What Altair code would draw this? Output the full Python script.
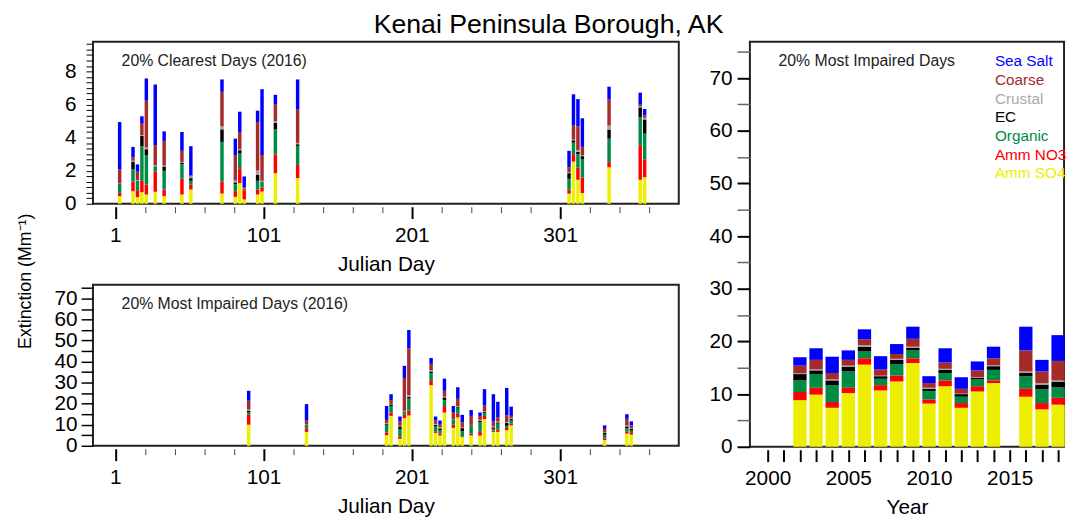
import altair as alt
import pandas as pd

COMPONENTS = ["Amm SO4", "Amm NO3", "Organic", "EC", "Crustal", "Coarse", "Sea Salt"]
COLORS = ["#EEEE00", "#FF0000", "#008B45", "#000000", "#A0A0A0", "#A52A2A", "#0000FF"]

# ---- 20% clearest days (2016) ----
clear_days = [4, 13, 16, 19, 22, 28, 34, 46, 52, 73, 82, 85, 88, 97, 100, 109, 124,
              307, 310, 313, 316, 334, 355, 358]
clear_so4 = [0.46, 0.76, 0.40, 0.70, 0.56, 0.72, 0.46, 0.56, 0.86, 0.62, 0.42, 1.25, 0.26, 0.56, 0.74, 1.85, 1.55,
             0.61, 2.55, 1.45, 0.65, 2.21, 1.45, 1.61]
clear_no3 = [0.20, 0.59, 0.42, 0.69, 0.59, 1.23, 0.40, 0.95, 0.29, 0.73, 0.34, 0.90, 0.56, 0.30, 0.25, 1.14, 0.80,
             0.24, 0.45, 0.74, 0.94, 0.31, 2.05, 1.07]
clear_oc = [0.55, 0.75, 0.53, 2.09, 1.80, 0.30, 1.13, 0.88, 0.24, 2.39, 0.43, 0.89, 0.05, 0.53, 0.32, 1.51, 1.15,
            0.66, 0.70, 0.81, 1.11, 1.42, 1.73, 1.56]
clear_ec = [0.02, 0.45, 0.04, 0.62, 0.35, 0.02, 0.26, 0.10, 0.16, 0.76, 0.10, 0.20, 0.03, 0.36, 0.03, 0.40, 0.10,
            0.34, 0.14, 0.14, 0.18, 0.55, 0.60, 0.86]
clear_crustal = [0.02, 0.05, 0.05, 0.04, 0.10, 0.08, 0.06, 0.04, 0.10, 0.18, 0.12, 0.06, 0.02, 0.26, 0.05, 0.08, 0.08,
                 0.06, 0.04, 0.10, 0.06, 0.24, 0.06, 0.10]
clear_coarse = [0.84, 0.20, 0.50, 0.70, 2.83, 1.19, 1.49, 0.67, 0.06, 2.09, 1.54, 1.04, 0.09, 2.93, 1.56, 1.05, 2.01,
                0.30, 0.85, 1.45, 0.50, 1.60, 0.10, 0.15]
clear_seasalt = [2.85, 0.64, 0.44, 0.45, 1.35, 3.68, 0.58, 1.14, 1.77, 0.75, 0.99, 1.23, 0.64, 0.69, 3.98, 0.56, 1.83,
                 0.99, 1.89, 1.64, 1.73, 0.75, 0.73, 0.38]

# ---- 20% most impaired days (2016) ----
imp_days = [91, 130, 184, 187, 193, 196, 199, 214, 217, 220, 223, 229, 232, 235, 241, 247, 250, 256, 259, 265, 268,
            331, 346, 349]
imp_so4 = [10.0, 6.6, 5.0, 14.2, 3.3, 13.1, 14.4, 28.8, 6.1, 4.9, 15.8, 8.5, 13.5, 4.1, 4.9, 4.8, 12.7, 6.6, 6.6, 7.4,
           9.7, 2.7, 5.8, 5.3]
imp_no3 = [4.7, 1.5, 1.4, 1.6, 1.2, 1.6, 2.3, 2.0, 0.8, 0.9, 3.1, 1.5, 1.7, 0.4, 0.9, 2.1, 1.5, 0.6, 1.1, 1.1, 0.8,
           0.8, 1.1, 0.8]
imp_oc = [1.2, 1.6, 3.6, 3.1, 3.5, 1.6, 5.8, 3.7, 2.3, 1.5, 2.8, 2.0, 2.9, 2.4, 3.4, 4.2, 1.3, 0.9, 2.8, 1.0, 1.5,
          1.8, 1.5, 1.1]
imp_ec = [0.7, 0.2, 0.5, 0.8, 1.2, 0.1, 0.8, 0.8, 0.8, 1.0, 1.3, 0.3, 0.5, 1.5, 0.5, 0.8, 0.5, 0.7, 0.6, 1.3, 0.7,
          0.8, 0.8, 0.9]
imp_crustal = [0.6, 0.2, 0.3, 0.2, 0.3, 0.2, 0.8, 0.5, 0.4, 0.6, 0.3, 0.2, 0.3, 0.3, 0.2, 0.4, 0.3, 0.4, 0.4, 0.5,
               0.5, 0.2, 0.4, 0.3]
imp_coarse = [4.2, 1.9, 1.5, 1.8, 2.1, 15.6, 22.2, 3.1, 1.6, 1.1, 2.8, 3.3, 3.4, 2.4, 4.3, 1.9, 2.8, 2.4, 2.1, 3.2,
              1.0, 1.7, 3.2, 1.3]
imp_seasalt = [4.7, 7.8, 6.6, 2.8, 2.3, 5.8, 8.7, 2.8, 1.9, 2.0, 5.8, 3.1, 5.5, 3.6, 2.8, 1.6, 7.8, 12.9, 7.3, 13.0,
               4.4, 1.7, 2.2, 1.9]

# ---- annual 20% most impaired days ----
years = [2002, 2003, 2004, 2005, 2006, 2007, 2008, 2009, 2010, 2011, 2012, 2013, 2014, 2016, 2017, 2018]
yr_so4 = [8.84, 9.9, 7.4, 10.2, 15.6, 10.7, 12.4, 15.9, 8.2, 11.5, 7.4, 10.5, 12.1, 9.5, 7.1, 8.0]
yr_no3 = [1.56, 1.3, 1.1, 1.0, 1.2, 1.0, 1.1, 0.9, 0.8, 1.1, 0.9, 1.0, 0.5, 1.5, 1.2, 1.3]
yr_oc = [2.2, 2.6, 3.2, 3.1, 1.3, 1.2, 2.2, 1.5, 1.6, 1.4, 1.2, 1.3, 2.0, 2.4, 2.6, 2.0]
yr_ec = [1.2, 0.7, 0.9, 0.9, 0.9, 0.5, 0.8, 0.5, 0.4, 0.6, 0.5, 0.3, 0.7, 0.6, 0.9, 1.0]
yr_crustal = [0.2, 0.2, 0.2, 0.2, 0.3, 0.1, 0.2, 0.2, 0.2, 0.2, 0.1, 0.1, 0.2, 0.3, 0.3, 0.3]
yr_coarse = [1.4, 1.8, 1.2, 1.1, 1.1, 1.2, 0.9, 1.5, 0.9, 1.2, 0.9, 1.3, 1.3, 4.0, 2.2, 3.7]
yr_seasalt = [1.6, 2.2, 3.1, 1.8, 1.9, 2.5, 1.9, 2.3, 1.3, 2.7, 2.2, 1.7, 2.2, 4.5, 2.2, 4.9]

LEGEND_LABELS = ["Sea Salt", "Coarse", "Crustal", "EC", "Organic", "Amm NO3", "Amm SO4"]
LEGEND_COLORS = ["#0000FF", "#A52A2A", "#A9A9A9", "#000000", "#008B45", "#FF0000", "#EEEE00"]

DAY_TICKS = list(range(1, 362, 20))
YEAR_TICKS = list(range(2000, 2019))
TOP_Y_TICKS = [round(k / 3, 4) for k in range(0, 30)]
IMP_Y_TICKS = list(range(0, 76, 5))

FONT = "Liberation Sans"


def to_long(xs, cols):
    rows = []
    for i, x in enumerate(xs):
        for k, (name, vals) in enumerate(zip(COMPONENTS, cols)):
            rows.append({"x": x, "component": name, "ord": k, "value": vals[i]})
    return pd.DataFrame(rows)


color_scale = alt.Scale(domain=COMPONENTS, range=COLORS)


def stacked(df, size, xscale, yscale, xaxis, yaxis):
    return alt.Chart(df).transform_stack(
        stack="value", groupby=["x"], as_=["v0", "v1"],
        sort=[alt.SortField("ord", order="ascending")]
    ).mark_bar(size=size, strokeWidth=0).encode(
        x=alt.X("x:Q", scale=xscale, axis=xaxis),
        y=alt.Y("v0:Q", scale=yscale, axis=yaxis),
        y2="v1:Q",
        color=alt.Color("component:N", scale=color_scale, legend=None),
    )


def panel_label(text):
    return alt.Chart(pd.DataFrame({"t": [text]})).mark_text(
        align="left", baseline="middle", fontSize=16, color="#222222", font=FONT
    ).encode(x=alt.value(29), y=alt.value(20), text="t:N")


def day_axis():
    major = "datum.value % 100 == 1"
    return alt.Axis(
        values=DAY_TICKS, format="d",
        labelExpr="datum.value % 100 == 1 ? datum.label : ''",
        title="Julian Day", labelFontSize=21, titleFontSize=21,
        offset=3, labelPadding=6, titlePadding=9, labelFlush=False, labelOverlap=False,
        tickSize={"condition": {"test": major, "value": 12}, "value": 6},
        tickWidth={"condition": {"test": major, "value": 2}, "value": 1},
        tickColor={"condition": {"test": major, "value": "#000000"}, "value": "#444444"},
    )


def day_scale():
    return alt.Scale(domain=[-14, 381], nice=False, zero=False, padding=0)


# top-left panel
top_df = to_long(clear_days, [clear_so4, clear_no3, clear_oc, clear_ec, clear_crustal, clear_coarse, clear_seasalt])
top_bars = stacked(
    top_df, 3.5,
    day_scale(),
    alt.Scale(domain=[0, 9.8], nice=False, padding=0),
    day_axis(),
    alt.Axis(values=TOP_Y_TICKS, labelFontSize=21, tickSize=7, tickWidth=1, tickColor="#000000",
             labelPadding=10, labelFlush=False, labelOverlap=False,
             labelExpr="abs(datum.value - 2*round(datum.value/2)) < 0.01 ? format(round(datum.value), 'd') : ''",
             title="Extinction (Mm⁻¹)", titleFontSize=18, titleAngle=270, titleX=-68, titleY=242,
             titleAlign="center", titleBaseline="middle"),
)
top = alt.layer(top_bars, panel_label("20% Clearest Days (2016)")).properties(width=593, height=164)

# bottom-left panel
bot_df = to_long(imp_days, [imp_so4, imp_no3, imp_oc, imp_ec, imp_crustal, imp_coarse, imp_seasalt])
bot_bars = stacked(
    bot_df, 3.5,
    day_scale(),
    alt.Scale(domain=[0, 76.5], nice=False, padding=0),
    day_axis(),
    alt.Axis(values=IMP_Y_TICKS, format="d", labelFontSize=21, tickSize=12, tickWidth=1.5,
             tickColor="#000000", labelPadding=4, labelFlush=False, labelOverlap=False,
             labelExpr="datum.value % 10 == 0 ? datum.label : ''", title=None),
)
bottom = alt.layer(bot_bars, panel_label("20% Most Impaired Days (2016)")).properties(width=593, height=163)

left = alt.vconcat(top, bottom, spacing=82, bounds="flush")

# right panel
yr_df = to_long(years, [yr_so4, yr_no3, yr_oc, yr_ec, yr_crustal, yr_coarse, yr_seasalt])
yr_bars = stacked(
    yr_df, 13.5,
    alt.Scale(domain=[1998.9, 2018.37], nice=False, zero=False, padding=0),
    alt.Scale(domain=[0, 76.9], nice=False, padding=0),
    alt.Axis(values=YEAR_TICKS, format="d", labelExpr="datum.value % 5 == 0 ? datum.label : ''",
             title="Year", labelFontSize=21, titleFontSize=21, offset=3, tickSize=12, tickWidth=2,
             tickColor="#000000", labelPadding=6, titlePadding=9, labelFlush=False, labelOverlap=False),
    alt.Axis(values=IMP_Y_TICKS, format="d", labelFontSize=21, tickSize=13,
             tickWidth={"condition": {"test": "datum.value % 10 == 0", "value": 2}, "value": 1.5},
             tickColor={"condition": {"test": "datum.value % 10 == 0", "value": "#000000"}, "value": "#666666"},
             labelPadding=5, labelFlush=False, labelOverlap=False,
             labelExpr="datum.value % 10 == 0 ? datum.label : ''", title=None),
)
leg_df = pd.DataFrame({"label": LEGEND_LABELS, "col": LEGEND_COLORS, "i": list(range(len(LEGEND_LABELS)))})
legend_text = alt.Chart(leg_df).transform_calculate(yp="20 + datum.i * 18.9").mark_text(
    align="left", baseline="middle", fontSize=15.5, font=FONT
).encode(
    x=alt.value(248),
    y=alt.Y("yp:Q", scale=None, axis=None),
    text="label:N",
    color=alt.Color("col:N", scale=None),
)
right = alt.layer(yr_bars, panel_label("20% Most Impaired Days"), legend_text).properties(width=318, height=410)

chart = alt.hconcat(left, right, spacing=28).properties(
    title=alt.Title("Kenai Peninsula Borough, AK", fontSize=27, fontWeight="normal", anchor="middle",
                    offset=-7, dx=7, color="#000000", font=FONT),
    padding={"left": 8, "top": 0, "right": 0, "bottom": 0},
).configure(font=FONT).configure_view(
    stroke="#222222", strokeWidth=2
).configure_axis(
    labelColor="#000000", titleColor="#000000", grid=False, domain=False,
    labelFontWeight="normal", titleFontWeight="normal", labelFont=FONT, titleFont=FONT,
)

chart.save("out.html", embed_options={"renderer": "svg", "actions": False})
